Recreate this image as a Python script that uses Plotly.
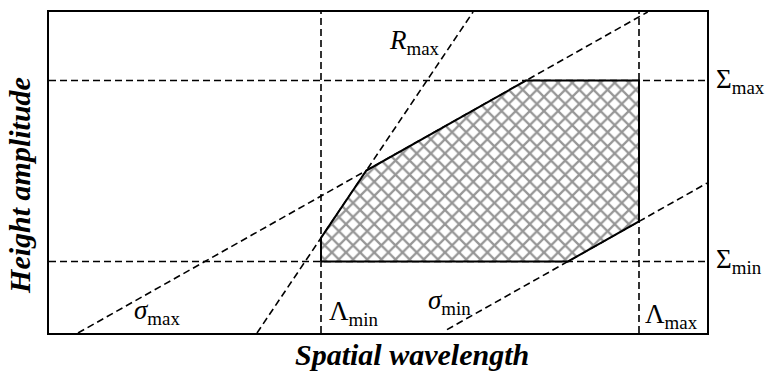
import numpy as np
import plotly.graph_objects as go

# Design-space limits (arbitrary units)
lambda_min, lambda_max = 272.0, 590.0      # wavelength bounds
Sigma_min, Sigma_max = 72.0, 254.0          # height-amplitude bounds
# Slope constraints: y = slope * (x - x_at_zero)
sigma_slope = 0.567
sigma_max_x0 = 29.0
sigma_min_x0 = 392.0
R_slope = 1.495
R_max_x0 = 208.0

X_RANGE = [0.0, 658.0]
Y_RANGE = [0.0, 323.0]


def line_y(slope, x0, x):
    return slope * (np.asarray(x) - x0)


def line_x(slope, x0, y):
    return np.asarray(y) / slope + x0


def px(x):
    return x / X_RANGE[1]


def py(y):
    return y / Y_RANGE[1]


# Intersections bounding the feasible region
x_a = lambda_min
y_a = float(line_y(R_slope, R_max_x0, x_a))                      # R_max on Lambda_min
x_b = (R_slope * R_max_x0 - sigma_slope * sigma_max_x0) / (R_slope - sigma_slope)
y_b = float(line_y(R_slope, R_max_x0, x_b))                      # R_max x sigma_max
x_c = float(line_x(sigma_slope, sigma_max_x0, Sigma_max))         # sigma_max on Sigma_max
y_e = float(line_y(sigma_slope, sigma_min_x0, lambda_max))        # sigma_min on Lambda_max
x_f = float(line_x(sigma_slope, sigma_min_x0, Sigma_min))         # sigma_min on Sigma_min

poly_x = [lambda_min, x_a, x_b, x_c, lambda_max, lambda_max, x_f, lambda_min]
poly_y = [Sigma_min, y_a, y_b, Sigma_max, Sigma_max, y_e, Sigma_min, Sigma_min]

fig = go.Figure()

dash = dict(color="black", width=1.6, dash="7px,4px")

# Constraint lines
fig.add_trace(go.Scatter(x=[lambda_min, lambda_min], y=Y_RANGE, mode="lines", line=dash))
fig.add_trace(go.Scatter(x=[lambda_max, lambda_max], y=Y_RANGE, mode="lines", line=dash))
fig.add_trace(go.Scatter(x=X_RANGE, y=[Sigma_max, Sigma_max], mode="lines", line=dash))
fig.add_trace(go.Scatter(x=X_RANGE, y=[Sigma_min, Sigma_min], mode="lines", line=dash))

sm_x = np.array([sigma_max_x0, float(line_x(sigma_slope, sigma_max_x0, Y_RANGE[1]))])
fig.add_trace(go.Scatter(x=sm_x, y=line_y(sigma_slope, sigma_max_x0, sm_x), mode="lines", line=dash))
sn_x = np.array([398.0, X_RANGE[1]])
fig.add_trace(go.Scatter(x=sn_x, y=line_y(sigma_slope, sigma_min_x0, sn_x), mode="lines", line=dash))
r_x = np.array([R_max_x0, float(line_x(R_slope, R_max_x0, Y_RANGE[1]))])
fig.add_trace(go.Scatter(x=r_x, y=line_y(R_slope, R_max_x0, r_x), mode="lines", line=dash))

# Feasible region
fig.add_trace(go.Scatter(
    x=poly_x, y=poly_y, mode="lines", fill="toself",
    line=dict(color="black", width=2),
    fillcolor="white",
    fillpattern=dict(shape="x", size=10, fgcolor="#2e2e2e", bgcolor="white", solidity=0.4),
))

serif = "Liberation Serif"
lab_font = dict(family=serif, size=27, color="black")

labels = [
    ("<i>R</i><sub>max</sub>", 338, 293),
    ("Σ<sub>max</sub>", 665, 254),
    ("Σ<sub>min</sub>", 665, 72),
    ("<i>σ</i><sub>max</sub>", 83, 21),
    ("Λ<sub>min</sub>", 278, 20),
    ("<i>σ</i><sub>min</sub>", 377, 31),
    ("Λ<sub>max</sub>", 594, 17),
]
for text, x, y in labels:
    fig.add_annotation(x=px(x), y=py(y), text=text, showarrow=False, xanchor="left",
                       yanchor="middle", font=lab_font, xref="paper", yref="paper")

title_font = dict(family=serif, size=30, color="black")
fig.add_annotation(x=px(363), y=py(-22), xref="paper", yref="paper",
                   text="<b><i>Spatial wavelength</i></b>",
                   showarrow=False, font=title_font, xanchor="center", yanchor="middle")
fig.add_annotation(x=px(-29), y=py(148), xref="paper", yref="paper",
                   text="<b><i>Height amplitude</i></b>",
                   showarrow=False, font=title_font, textangle=-90,
                   xanchor="center", yanchor="middle")

axis = dict(showgrid=False, zeroline=False, showticklabels=False, ticks="",
            showline=True, mirror=True, linecolor="black", linewidth=2)
fig.update_layout(
    width=768, height=373,
    margin=dict(l=49, r=61, t=10, b=40),
    plot_bgcolor="white", paper_bgcolor="white",
    showlegend=False,
    xaxis=dict(range=X_RANGE, **axis),
    yaxis=dict(range=Y_RANGE, **axis),
)

fig.write_html("out.html")
